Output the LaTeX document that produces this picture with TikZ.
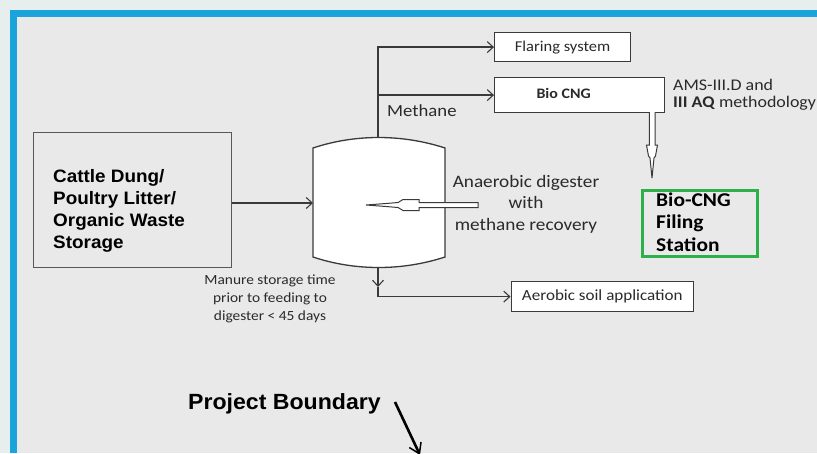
\documentclass[tikz,border=0pt]{standalone}
\usepackage{fontspec}
\setmainfont{Carlito}[FakeStretch=1.1]
\newfontfamily\arialf{Liberation Sans}[FakeStretch=1.05]
\usetikzlibrary{arrows.meta}
\definecolor{bluefr}{HTML}{1BA4DC}
\definecolor{outerbg}{HTML}{E6EEEE}
\definecolor{bggray}{HTML}{E9E9E9}
\definecolor{greenfr}{HTML}{2DB04A}
\definecolor{linec}{HTML}{3A3A3A}
\definecolor{txtc}{HTML}{2A2A2A}
\newcommand\fsz[2]{\fontsize{#1}{#2}\selectfont}
\begin{document}
\begin{tikzpicture}[x=1pt,y=-1pt,
  box/.style={draw=linec,line width=1.2pt,fill=white,inner sep=0pt,anchor=north west,text=txtc},
  conn/.style={draw=linec,line width=1.3pt},
  tip/.style={-{Straight Barb[length=6pt,width=11pt,line width=1.1pt]}},
  hollow/.style={draw=linec,line width=1pt,fill=white},
  lbl/.style={inner sep=0pt,text=txtc}
]
\useasboundingbox (0,0) rectangle (817,453);
\fill[outerbg] (0,0) rectangle (817,453);
\fill[bluefr] (10,10) rectangle (817,453);
\fill[bggray] (17,17) rectangle (817,453);

% boxes
\node[box,minimum width=136pt,minimum height=29pt,font=\fsz{15}{18}] (flare) at (494,32) {Flaring system};
\node[box,minimum width=170pt,minimum height=35pt,font=\fsz{14.5}{17}\bfseries] (biocng) at (494,77) {\hspace*{-32pt}\raisebox{4pt}{Bio CNG}};
\node[box,minimum width=182.5pt,minimum height=30pt,font=\fsz{15.5}{18}] (aerobic) at (510.5,281) {Aerobic soil application};
\node[box,fill=none,draw=linec!85,line width=1.3pt,minimum width=197.5pt,minimum height=135pt] (storage) at (33,131.5) {};
\node[lbl,anchor=base west,align=left,text=black,font=\arialf\fsz{18}{22}\bfseries] (storagetxt) at (53,248) {Cattle Dung/\\Poultry Litter/\\Organic Waste\\Storage};
\node[box,fill=none,draw=greenfr,line width=3pt,minimum width=115pt,minimum height=66pt] (station) at (640.5,188.5) {};
\node[lbl,anchor=base west,align=left,text=black,font=\fsz{19.5}{22.5}\bfseries] (stationtxt) at (656,251) {Bio-CNG\\Filing\\Station};

% tank
\draw[draw=linec,line width=1.3pt,fill=white] (313,148) .. controls (355,134) and (402,134) .. (445,148) -- (445,257) .. controls (402,271) and (355,271) .. (313,257) -- cycle;
\coordinate (tanktop) at (378,137.5);
\coordinate (tankbot) at (378,267.5);
\coordinate (tankleft) at (313,203);
\coordinate (split) at (378,287);

% labels
\node[lbl,anchor=base west,font=\fsz{17}{20}] (methane) at (387,116) {Methane};
\node[lbl,anchor=base,align=center,font=\fsz{17.5}{21.5}] (digtxt) at (526,230) {Anaerobic digester\\with\\methane recovery};
\node[lbl,anchor=base,align=center,font=\fsz{14}{18}] (manure) at (270,320) {Manure storage time\\prior to feeding to\\digester {<} 45 days};
\node[lbl,anchor=base west,align=left,font=\fsz{16.3}{17}] (ams) at (673,107) {AMS-III.D and\\\textbf{III AQ} methodology};
\node[lbl,anchor=base west,text=black,font=\arialf\fsz{22}{26}\bfseries] (pb) at (188,409) {Project Boundary};

% connectors
\draw[conn,tip] (tanktop) |- (flare.west);
\draw[conn,tip] (tanktop) |- (biocng.west);
\draw[conn,tip] (storage.east |- tankleft) -- (tankleft);
\draw[conn,tip] (tankbot) -- (split);
\draw[conn,tip] (split) |- (aerobic.west);

% hollow arrow inside tank
\draw[hollow] (478,202.5) -- (419,202.5) -- (419,199.5) -- (403,199.5) -- (398,202.5) -- (386,203.5) -- (366,205) -- (386,206.5) -- (398,207.5) -- (403,210.5) -- (419,210.5) -- (419,207.5) -- (478,207.5) -- cycle;

% hollow arrow down to station
\draw[hollow] (649.3,112) -- (649.3,145) -- (646.5,145) -- (648.5,156) -- (650,158) -- (652,178) -- (654,158) -- (655.5,156) -- (657.5,145) -- (655,145) -- (655,112);

% project boundary arrow
\coordinate (pbs) at (395,402);
\coordinate (pbe) at (420,455);
\draw[line width=2.6pt,-{Straight Barb[length=10pt,width=13pt,line width=1.5pt]}] (pbs) -- (pbe);
\end{tikzpicture}
\end{document}
